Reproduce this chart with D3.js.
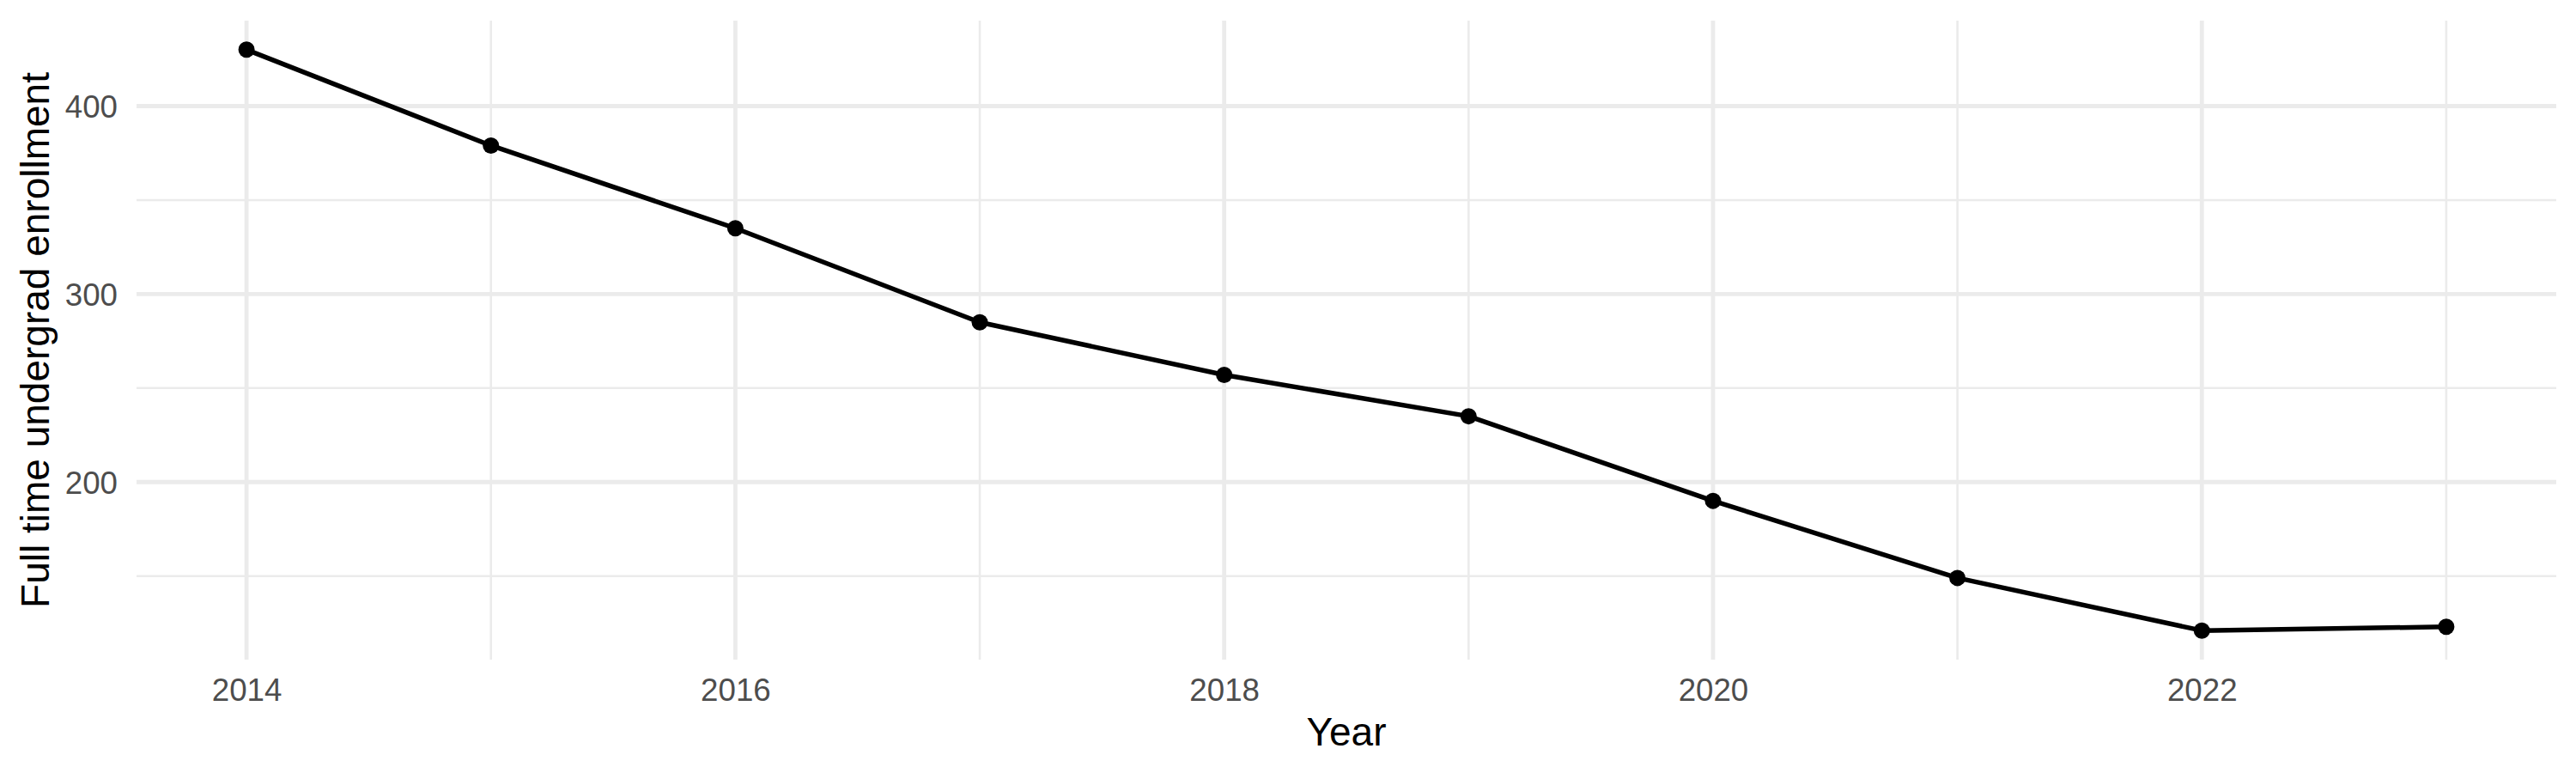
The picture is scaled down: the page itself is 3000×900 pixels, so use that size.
<!DOCTYPE html>
<html>
<head>
<meta charset="utf-8">
<script src="https://cdn.jsdelivr.net/npm/d3@7"></script>
<style>
  body { margin: 0; background: #fff; }
  svg { display: block; font-family: "Liberation Sans", Arial, sans-serif; }
</style>
</head>
<body>
<div id="vis"></div>
<script>
const width = 3000;
const height = 900;
const margin = { top: 24, right: 23, bottom: 132, left: 159 };

// values
const years = [2014, 2015, 2016, 2017, 2018, 2019, 2020, 2021, 2022, 2023];
const enrollment = [430, 379, 335, 285, 257, 235, 190, 149, 121, 123];

const xMajor = [2014, 2016, 2018, 2020, 2022];
const xMinor = [2015, 2017, 2019, 2021, 2023];
const yMajor = [200, 300, 400];
const yMinor = [150, 250, 350];

const data = years.map((y, i) => ({ year: y, value: enrollment[i] }));

const svg = d3.select("#vis").append("svg")
    .attr("width", width)
    .attr("height", height);

// ggplot style 5% expansion
function expand(ext) {
    let pad = (ext[1] - ext[0]) * 0.05;
    return [ext[0] - pad, ext[1] + pad];
}

const x = d3.scaleLinear()
    .domain(expand(d3.extent(years)))
    .range([margin.left, width - margin.right]);

const y = d3.scaleLinear()
    .domain(expand(d3.extent(enrollment)))
    .range([height - margin.bottom, margin.top]);

const grid = svg.append("g").attr("stroke", "#ebebeb");

grid.selectAll(".yminor").data(yMinor).enter().append("line")
    .attr("x1", margin.left).attr("x2", width - margin.right)
    .attr("y1", d => y(d)).attr("y2", d => y(d))
    .attr("stroke-width", 2.6);

grid.selectAll(".xminor").data(xMinor).enter().append("line")
    .attr("y1", margin.top).attr("y2", height - margin.bottom)
    .attr("x1", d => x(d)).attr("x2", d => x(d))
    .attr("stroke-width", 2.6);

grid.selectAll(".ymajor").data(yMajor).enter().append("line")
    .attr("x1", margin.left).attr("x2", width - margin.right)
    .attr("y1", d => y(d)).attr("y2", d => y(d))
    .attr("stroke-width", 4.8);

grid.selectAll(".xmajor").data(xMajor).enter().append("line")
    .attr("y1", margin.top).attr("y2", height - margin.bottom)
    .attr("x1", d => x(d)).attr("x2", d => x(d))
    .attr("stroke-width", 4.8);

// axes, drawn with d3 axis generators and stripped down to labels
const xAxis = svg.append("g")
    .attr("transform", `translate(0,${height - margin.bottom})`)
    .call(d3.axisBottom(x).tickValues(xMajor).tickFormat(d3.format("d")).tickSize(0).tickPadding(0));
xAxis.select(".domain").remove();
xAxis.selectAll("text")
    .attr("y", 48)
    .attr("dy", null)
    .attr("fill", "#4d4d4d")
    .style("font-size", "36.7px")
    .style("font-family", "Liberation Sans, Arial, sans-serif");

const yAxis = svg.append("g")
    .attr("transform", `translate(${margin.left},0)`)
    .call(d3.axisLeft(y).tickValues(yMajor).tickSize(0).tickPadding(0));
yAxis.select(".domain").remove();
yAxis.selectAll("text")
    .attr("x", -22)
    .attr("dy", "0.35em")
    .attr("fill", "#4d4d4d")
    .style("font-size", "36.7px")
    .style("font-family", "Liberation Sans, Arial, sans-serif");

// axis titles
svg.append("text")
    .attr("x", (margin.left + width - margin.right) / 2)
    .attr("y", 868)
    .attr("text-anchor", "middle")
    .attr("fill", "black")
    .style("font-size", "46px")
    .text("Year");

svg.append("text")
    .attr("transform", `translate(57,${(margin.top + height - margin.bottom) / 2}) rotate(-90)`)
    .attr("text-anchor", "middle")
    .attr("fill", "black")
    .style("font-size", "46px")
    .text("Full time undergrad enrollment");

// line and points
const line = d3.line()
    .x(d => x(d.year))
    .y(d => y(d.value));

svg.append("path")
    .datum(data)
    .attr("d", line)
    .attr("fill", "none")
    .attr("stroke", "black")
    .attr("stroke-width", 5.5)
    .attr("stroke-linejoin", "round");

svg.selectAll("circle")
    .data(data)
    .enter().append("circle")
    .attr("cx", d => x(d.year))
    .attr("cy", d => y(d.value))
    .attr("r", 9.5)
    .attr("fill", "black");
</script>
</body>
</html>
